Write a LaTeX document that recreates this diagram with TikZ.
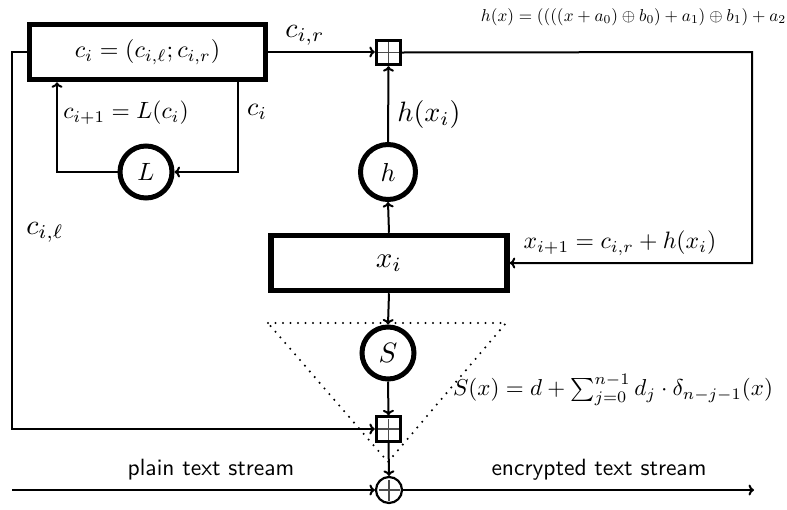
\documentclass[tikz,border=0pt]{standalone}
\usepackage{graphicx}
\usetikzlibrary{arrows.meta}
\newcommand{\myscl}[2]{\scalebox{#1}{#2}}
\begin{document}
\begin{tikzpicture}[x=1pt,y=-1pt,
  conn/.style={line width=2pt, -{To[length=5.5pt,width=11pt]}},
  bigbox/.style={draw, line width=5.5pt, minimum width=236pt, minimum height=55pt, inner sep=0pt},
  fcirc/.style={draw, circle, line width=5pt, minimum size=52pt, inner sep=0pt},
  plusmark/.style={path picture={\draw[line width=1.5pt, black!70]
      ([xshift=-10.5pt]path picture bounding box.center) -- ([xshift=10.5pt]path picture bounding box.center)
      ([yshift=-10.5pt]path picture bounding box.center) -- ([yshift=10.5pt]path picture bounding box.center);}},
  sqplus/.style={draw, rectangle, line width=2.8pt, minimum size=24.5pt, inner sep=0pt, plusmark},
  oplusn/.style={draw, circle, line width=2.2pt, minimum size=26pt, inner sep=0pt, plusmark},
  lbl/.style={inner sep=0pt, anchor=center}
]
\useasboundingbox (0,0) rectangle (787,509);

% dotted triangle
\draw[line width=2.3pt, line cap=round, dash pattern=on 0pt off 7.5pt] (268,323) -- (506,323) -- (388,462) -- cycle;

% nodes
\node[bigbox] (cbox) at (147.5,52) {\myscl{2.4}{$c_i = (c_{i,\ell}; c_{i,r})$}};
\node[bigbox] (xbox) at (389,263) {\myscl{2.9}{$x_i$}};
\node[fcirc] (Lc) at (146,172) {\myscl{2.5}{$L$}};
\node[fcirc, minimum size=55pt] (hc) at (388,172) {\myscl{2.6}{$h$}};
\node[fcirc] (Sc) at (388,353) {\myscl{2.8}{$S$}};
\node[sqplus, fill=white] (sq1) at (388.5,52.5) {};
\node[sqplus, fill=white] (sq2) at (388.5,429) {};
\node[oplusn] (ox) at (389,490) {};

% coordinates
\coordinate (rc) at (752,52);
\coordinate (cr) at (238,172);
\coordinate (cl) at (57,172);
\coordinate (lc) at (12,52);
\coordinate (sin) at (12,490);
\coordinate (sout) at (754,490);

% connectors
\draw[conn] (cbox.east) -- (sq1.west |- cbox.east);
\draw[conn] (sq1.east) -- (rc) -- (rc |- xbox.east) -- (xbox.east);
\draw[conn] (xbox.north) -- (hc.south);
\draw[conn] (hc.north) -- (sq1.south);
\draw[conn] (xbox.south) -- (Sc.north);
\draw[conn] (Sc.south) -- (sq2.north);
\draw[conn] (sq2.south) -- (ox.north);
\draw[conn] (cbox.west) -- (lc) -- (lc |- sq2.west) -- (sq2.west);
\draw[conn] (cbox.south -| cr) -- (cr) -- (Lc.east);
\draw[conn] (Lc.west) -- (cl) -- (cl |- cbox.south);
\draw[conn] (sin) -- (ox.west);
\draw[conn] (ox.east) -- (sout);

% labels
\node[lbl] (lcir) at (305,35) {\myscl{2.8}{$c_{i,r}$}};
\node[lbl] (lhx) at (633.5,17) {\myscl{1.72}{$h(x) = ((((x+a_0)\oplus b_0)+a_1)\oplus b_1)+a_2$}};
\node[lbl] (lcnext) at (126,113) {\myscl{2.35}{$c_{i+1} = L(c_i)$}};
\node[lbl] (lci) at (257,112) {\myscl{2.6}{$c_i$}};
\node[lbl] (lhxi) at (429,114) {\myscl{2.8}{$h(x_i)$}};
\node[lbl] (lxnext) at (620,243) {\myscl{2.37}{$x_{i+1} = c_{i,r} + h(x_i)$}};
\node[lbl] (lcil) at (45,232) {\myscl{2.8}{$c_{i,\ell}$}};
\node[lbl] (lSx) at (613,390) {\myscl{2.3}{$S(x) = d + \sum_{j=0}^{n-1} d_j \cdot \delta_{n-j-1}(x)$}};
\node[lbl] (lplain) at (211,470) {\myscl{2.35}{\sffamily plain text stream}};
\node[lbl] (lenc) at (599,470) {\myscl{2.35}{\sffamily encrypted text stream}};
\end{tikzpicture}
\end{document}
